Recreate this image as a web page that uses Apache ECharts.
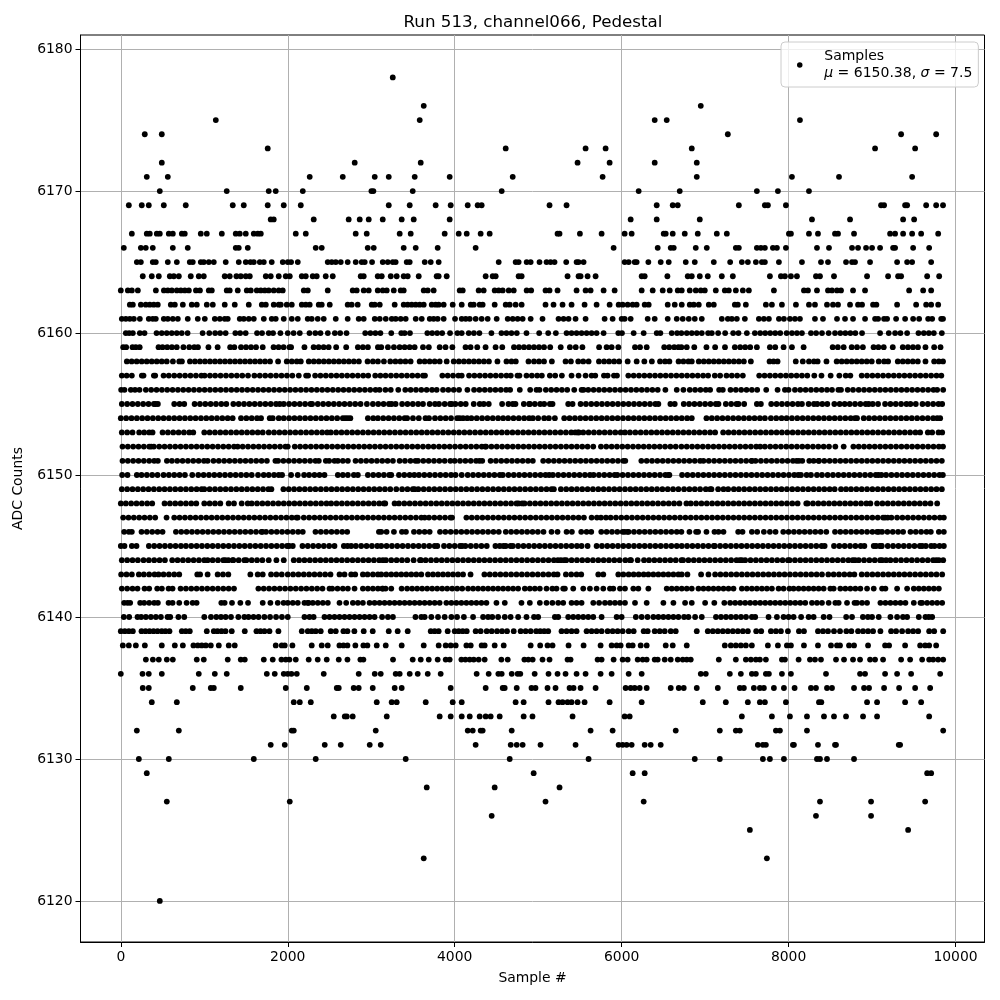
<!DOCTYPE html>
<html>
<head>
<meta charset="utf-8">
<title>Run 513, channel066, Pedestal</title>
<script src="https://cdn.jsdelivr.net/npm/echarts@6/dist/echarts.min.js"></script>
<style>
html,body{margin:0;padding:0;background:#fff}
#main{width:1000px;height:1000px}
</style>
</head>
<body>
<div id="main"></div>
<script>
// sample numbers, one list per ADC level
const adc6178=[3258]
const adc6176=[3629,6948]
const adc6175=[1138,3581,6396,6540,8136]
const adc6174=[287,491,7272,9348,9768]
const adc6173=[1760,4611,5568,5808,6840,9036,9516]
const adc6172=[491,2802,3593,5472,5856,6396,6900]
const adc6171=[311,563,2263,2659,3042,3210,3521,3940,4695,5772,6900,8040,8604,9480]
const adc6170=[467,1269,1772,1856,2180,3002,3026,3497,4563,6204,6696,7620,7872,8244]
const adc6169=[96,251,335,515,778,1341,1473,1760,1952,2156,3210,3461,3772,3952,4156,4275,4323,5136,5340,6420,6612,6672,7404,7716,7752,7968,9108,9144,9396,9420,9648,9768,9850]
const adc6168=[1796,1832,2311,2730,2862,2970,3138,3365,3509,3940,6108,6420,6936,8280,8736,9372,9504]
const adc6167=[132,311,347,431,467,575,623,731,766,958,1030,1210,1377,1425,1497,1593,1641,1677,2096,2216,2814,2946,3341,3473,3880,4048,4144,4311,4419,5232,5256,5500,5760,6036,6120,6504,6528,6612,6756,6912,7140,7260,8004,8028,8244,8352,8556,8592,8784,9216,9276,9372,9480,9588,9792]
const adc6166=[36,240,299,383,623,802,1377,1413,1521,2335,2407,2958,3030,3389,3533,3796,4251,5904,6432,6588,6624,6888,7020,7368,7404,7620,7668,7716,7812,7860,7968,8340,8484,8760,8832,8928,9000,9096,9252,9276,9492,9684]
const adc6165=[192,240,383,419,563,671,826,862,958,994,1054,1114,1257,1413,1497,1553,1593,1665,1713,1808,1940,2000,2040,2120,2479,2527,2575,2635,2718,2814,2886,2922,3010,3138,3198,3258,3293,3425,3461,3641,3713,3808,4527,4730,4766,4862,4910,5016,5100,5148,5196,5336,5460,5484,5544,6036,6084,6156,6180,6320,6468,6564,6768,6876,7104,7300,7440,7512,7608,7680,7716,7884,8160,8388,8472,8688,8760,8796,8976,9300,9420,9480,9708]
const adc6164=[263,371,455,587,635,695,838,934,994,1245,1305,1385,1437,1497,1545,1737,1796,1892,1976,2024,2168,2216,2299,2347,2455,2539,2874,2910,3078,3126,3234,3305,3389,3437,3569,3784,3808,3904,4371,4455,4491,4766,4802,5352,5484,5508,5592,5688,6240,6276,6548,6792,6840,6936,7032,7200,7332,7776,7908,7956,8028,8100,8328,8376,8544,8940,9192,9312,9348,9660,9804]
const adc6163=[0,84,132,204,420,516,563,611,671,719,767,815,900,948,1054,1090,1269,1305,1401,1509,1557,1629,1677,1725,1772,1832,1892,1940,2192,2240,2479,2778,2826,2910,2970,3078,3138,3186,3270,3353,3389,3629,3677,3748,4060,4096,4287,4347,4479,4527,4575,4647,4707,4862,4916,5088,5136,5232,5460,5568,5628,5784,5916,6240,6372,6492,6576,6672,6720,6816,6888,6948,6996,7128,7236,7284,7368,7452,7524,7824,8184,8232,8340,8472,8520,8580,8628,8772,8916,9444,9612,9708]
const adc6162=[108,144,240,299,347,395,443,599,647,743,850,910,1030,1102,1245,1365,1533,1689,1737,1832,1892,1916,1988,2048,2168,2216,2263,2371,2407,2503,2718,2766,2838,3006,3042,3102,3281,3389,3437,3485,3533,3581,3629,3725,3772,3808,3868,3976,4084,4192,4228,4299,4335,4479,4611,4659,4730,4802,5088,5184,5292,5400,5556,5700,5856,5964,6012,6072,6132,6180,6276,6324,6552,6636,6720,6816,6864,6924,7044,7104,7356,7392,7488,7728,7800,7920,8088,8244,8316,8460,8532,8592,8736,8832,8880,9012,9052,9300,9528,9648,9708,9792]
const adc6161=[12,60,108,156,228,335,383,419,515,563,623,683,802,922,1006,1126,1186,1245,1281,1425,1473,1533,1593,1713,1808,1856,1952,2048,2120,2239,2287,2359,2431,2575,2718,2850,2910,3042,3102,3174,3246,3293,3353,3413,3533,3605,3701,3748,3796,3868,4004,4084,4132,4180,4251,4323,4395,4503,4635,4695,4754,4814,4910,5052,5244,5304,5364,5448,5568,5796,5892,6000,6036,6108,6312,6396,6552,6660,6732,6804,6876,6960,7200,7272,7320,7380,7476,7644,7704,7764,7884,7944,8016,8076,8136,8316,8412,8580,8676,8772,8916,9036,9072,9144,9180,9288,9396,9492,9564,9672,9720,9828,9850]
const adc6160=[60,100,144,228,284,428,490,550,610,670,730,800,980,1060,1130,1190,1256,1372,1430,1496,1632,1692,1772,1824,1912,2000,2070,2144,2260,2330,2392,2480,2564,2628,2704,2928,2990,3050,3110,3240,3360,3400,3464,3672,3730,3790,3850,3944,4032,4084,4168,4230,4296,4440,4560,4620,4680,4744,4860,5012,5120,5212,5340,5400,5460,5520,5580,5640,5700,5784,5960,6004,6144,6264,6420,6464,6600,6664,6716,6780,6840,6900,6960,7036,7080,7156,7240,7336,7400,7500,7596,7660,7720,7780,7840,7900,7976,8040,8100,8160,8268,8330,8400,8480,8556,8620,8680,8740,8800,8880,9096,9200,9276,9340,9420,9556,9620,9680,9740,9836]
const adc6159=[28,64,140,180,226,452,500,556,612,670,750,820,880,924,1050,1160,1310,1360,1440,1500,1560,1620,1700,1830,1890,1950,2020,2040,2200,2310,2370,2430,2490,2580,2700,2840,2900,2960,3080,3120,3200,3272,3340,3400,3460,3520,3620,3690,3820,3890,3972,4130,4190,4270,4370,4490,4570,4710,4770,4830,4890,4950,5010,5070,5144,5270,5380,5450,5530,5730,5820,5880,5960,6160,6220,6300,6510,6570,6630,6680,6716,6780,6870,7016,7120,7238,7356,7420,7480,7540,7620,7776,7840,7940,8040,8180,8528,8590,8660,8756,8820,8890,9018,9076,9140,9248,9368,9430,9490,9550,9640,9744,9820]
const adc6158=[72,130,190,250,310,370,430,490,550,624,700,732,828,888,948,1008,1068,1128,1188,1248,1308,1368,1428,1488,1548,1608,1668,1728,1788,1884,1988,2048,2108,2156,2252,2312,2372,2432,2492,2552,2612,2672,2732,2792,2852,2956,3020,3080,3152,3228,3290,3350,3410,3472,3580,3640,3700,3760,3820,3904,3988,4050,4110,4170,4230,4290,4350,4410,4512,4620,4680,4732,4884,4950,5010,5070,5164,5328,5392,5480,5540,5604,5728,5790,5850,5910,5970,6072,6180,6272,6362,6460,6520,6572,6682,6740,6800,6840,6924,6984,7044,7104,7164,7224,7284,7344,7404,7464,7548,7772,7820,7868,8086,8170,8244,8304,8348,8454,8576,8636,8696,8756,8816,8876,8936,8996,9080,9144,9192,9308,9368,9428,9488,9548,9640,9744,9800,9850]
const adc6157=[12,70,132,252,272,396,412,512,575,640,705,770,835,900,965,1004,1068,1130,1195,1260,1325,1390,1455,1524,1600,1665,1730,1795,1860,1925,1990,2055,2132,2220,2244,2328,2392,2456,2520,2584,2648,2712,2776,2840,2904,2964,3048,3110,3172,3236,3300,3364,3428,3492,3556,3620,3644,3852,3916,3980,4044,4084,4172,4236,4300,4364,4428,4492,4556,4620,4672,4752,4776,4860,4924,4988,5044,5140,5204,5284,5400,5484,5568,5640,5684,5788,5832,5908,5944,6080,6144,6208,6272,6336,6400,6464,6528,6592,6656,6720,6784,6848,6912,6976,7036,7116,7180,7256,7320,7384,7452,7648,7712,7776,7840,7904,7968,8032,8096,8160,8224,8308,8394,8504,8608,8684,8740,8876,8940,9004,9068,9132,9196,9260,9324,9388,9452,9516,9580,9644,9708,9772,9830]
const adc6156=[4,44,120,170,224,300,364,428,492,556,620,684,748,812,876,940,1004,1068,1132,1196,1260,1324,1388,1452,1516,1580,1644,1708,1772,1836,1900,1964,2028,2092,2156,2220,2284,2348,2412,2476,2540,2604,2668,2732,2796,2860,2924,2988,3052,3100,3170,3234,3324,3408,3472,3536,3600,3664,3728,3784,3860,3924,3988,4052,4152,4232,4296,4360,4424,4488,4552,4616,4664,4780,4904,4980,5016,5092,5156,5220,5284,5348,5432,5520,5544,5600,5664,5728,5792,5856,5920,5984,6048,6112,6176,6240,6304,6368,6432,6524,6660,6740,6816,6880,6944,7008,7060,7168,7212,7304,7368,7432,7496,7560,7624,7732,7868,7956,8000,8076,8140,8204,8268,8332,8396,8460,8520,8596,8628,8708,8772,8840,8904,8968,9032,9096,9160,9224,9288,9352,9416,9480,9544,9608,9672,9736,9780,9852]
const adc6155=[12,76,140,204,268,332,396,416,444,640,704,760,884,948,1012,1076,1140,1204,1264,1348,1412,1476,1540,1604,1668,1732,1796,1860,1904,1952,2016,2080,2144,2208,2272,2292,2360,2424,2488,2552,2616,2680,2744,2808,2872,2948,3020,3084,3148,3212,3244,3292,3370,3434,3498,3562,3620,3700,3764,3812,3880,3944,3964,4008,4072,4132,4228,4300,4348,4408,4568,4644,4696,4728,4828,4892,4900,4960,5024,5072,5140,5172,5360,5412,5508,5572,5636,5700,5764,5828,5892,5956,6020,6084,6148,6212,6276,6340,6404,6440,6584,6636,6744,6808,6872,6936,7000,7064,7128,7160,7248,7312,7376,7400,7468,7620,7668,7792,7856,7920,7984,8048,8112,8160,8240,8304,8344,8404,8464,8548,8612,8672,8732,8796,8860,8924,8960,9008,9072,9156,9220,9284,9348,9412,9460,9524,9604,9668,9732,9796,9840]
const adc6154=[0,64,128,192,256,320,384,448,512,576,640,704,768,832,896,960,1024,1088,1152,1216,1280,1340,1440,1504,1568,1632,1680,1784,1820,1892,1952,2016,2080,2144,2208,2272,2336,2400,2464,2528,2592,2660,2690,2720,2750,2960,3024,3080,3144,3208,3272,3336,3400,3430,3500,3570,3650,3692,3764,3828,3892,3956,4030,4060,4100,4150,4200,4264,4328,4392,4456,4520,4580,4640,4704,4768,4832,4892,4936,5000,5072,5128,5200,5312,5376,5440,5504,5568,5632,5696,5760,5824,5888,5952,6016,6080,6144,6208,6272,6336,6400,6464,6528,6592,6656,6720,6784,6840,7016,7080,7144,7208,7272,7336,7400,7464,7528,7592,7656,7716,7788,7852,7916,7976,8040,8104,8168,8232,8296,8360,8424,8488,8552,8616,8680,8744,8796,8820,8900,8964,9028,9092,9156,9220,9284,9348,9412,9476,9540,9604,9668,9732,9780,9816]
const adc6153=[12,76,140,220,280,340,380,500,564,628,692,756,820,868,1000,1064,1128,1192,1256,1320,1384,1448,1512,1576,1640,1700,1772,1836,1900,1964,2028,2092,2156,2220,2284,2348,2412,2472,2516,2580,2644,2708,2772,2836,2900,2964,3028,3092,3156,3220,3284,3348,3412,3476,3540,3604,3668,3732,3796,3860,3924,3988,4052,4116,4180,4244,4308,4372,4436,4500,4564,4628,4692,4756,4820,4884,4948,5012,5076,5140,5204,5268,5332,5396,5444,5476,5488,5540,5604,5668,5732,5796,5860,5924,5988,6040,6100,6164,6228,6292,6356,6420,6484,6548,6612,6676,6740,6804,6868,6932,6996,7060,7120,7216,7280,7344,7408,7472,7536,7600,7664,7728,7792,7856,7920,7984,8048,8112,8176,8240,8304,8368,8432,8496,8560,8624,8688,8752,8816,8880,8944,9008,9072,9136,9200,9264,9328,9392,9456,9520,9576,9668,9720,9796,9840]
const adc6152=[20,84,148,212,276,340,364,396,460,524,588,652,716,780,844,908,972,1036,1100,1164,1228,1292,1356,1400,1460,1524,1588,1652,1716,1780,1844,1908,1972,2000,2084,2148,2212,2276,2340,2404,2468,2532,2596,2660,2724,2788,2852,2916,2980,3044,3108,3172,3236,3300,3364,3428,3492,3556,3620,3684,3748,3812,3876,3940,4004,4068,4132,4196,4260,4324,4364,4376,4440,4504,4568,4632,4696,4760,4824,4888,4952,5016,5080,5144,5208,5272,5336,5400,5464,5528,5592,5660,5752,5816,5880,5944,6008,6072,6136,6200,6264,6328,6392,6456,6520,6584,6648,6716,6780,6844,6908,6972,7036,7100,7164,7228,7292,7356,7420,7484,7548,7612,7660,7716,7780,7844,7908,7972,8036,8100,8164,8228,8292,8356,8420,8484,8560,8660,8776,8840,8904,8968,9032,9096,9160,9224,9288,9352,9416,9480,9544,9608,9672,9736,9800,9850]
const adc6151=[20,84,148,212,276,340,400,444,552,612,676,740,804,868,932,996,1040,1110,1174,1238,1302,1366,1430,1494,1558,1622,1686,1750,1852,1884,1948,2012,2076,2140,2204,2268,2332,2372,2456,2496,2560,2600,2660,2720,2812,2876,2940,3004,3068,3132,3196,3260,3340,3404,3470,3530,3560,3624,3688,3752,3816,3880,3948,4000,4064,4128,4192,4256,4296,4330,4430,4494,4558,4622,4686,4750,4814,4878,4936,5060,5124,5188,5252,5316,5380,5444,5508,5572,5636,5700,5764,5828,5892,5956,6020,6044,6236,6300,6364,6428,6492,6556,6620,6684,6748,6812,6876,6940,6980,7044,7108,7172,7236,7300,7364,7428,7492,7556,7560,7604,7668,7732,7796,7860,7924,7988,8052,8096,8124,8164,8248,8300,8360,8364,8428,8492,8556,8620,8684,8748,8812,8876,8940,9004,9068,9132,9196,9260,9324,9388,9452,9516,9580,9644,9708,9772,9836]
const adc6150=[16,80,192,248,312,376,440,512,576,640,704,768,856,928,992,1056,1120,1184,1248,1312,1376,1440,1504,1568,1644,1712,1772,1836,1892,1932,2040,2120,2196,2256,2320,2380,2440,2600,2660,2720,2792,2840,2960,3024,3088,3152,3216,3240,3332,3396,3460,3516,3572,3636,3700,3764,3828,3892,3956,4010,4084,4156,4220,4284,4348,4412,4476,4540,4576,4644,4708,4772,4836,4900,4964,5028,5088,5132,5176,5240,5304,5368,5432,5496,5560,5620,5664,5728,5792,5856,5916,5948,6012,6076,6140,6204,6268,6332,6396,6460,6524,6560,6572,6724,6788,6852,6916,6980,7044,7108,7172,7236,7300,7364,7428,7492,7556,7620,7684,7748,7812,7876,7940,8004,8068,8116,8148,8216,8268,8340,8400,8468,8532,8596,8660,8724,8788,8852,8916,8980,9044,9076,9112,9168,9232,9296,9360,9424,9488,9552,9616,9680,9744,9808,9848]
const adc6149=[12,76,140,204,268,332,396,460,524,588,652,716,780,844,908,968,1000,1064,1128,1192,1256,1320,1384,1448,1512,1576,1640,1704,1768,1804,1948,2012,2076,2140,2204,2268,2332,2396,2460,2524,2588,2652,2716,2780,2844,2908,2972,3036,3100,3164,3228,3300,3370,3434,3498,3520,3564,3628,3692,3756,3820,3884,3948,4012,4076,4140,4204,4268,4332,4396,4460,4524,4588,4652,4716,4780,4844,4908,4972,5036,5100,5160,5188,5272,5336,5400,5464,5528,5592,5656,5720,5784,5848,5912,5976,6040,6104,6168,6232,6296,6360,6424,6488,6552,6616,6680,6748,6812,6876,6940,7008,7060,7076,7156,7220,7276,7344,7404,7468,7532,7596,7660,7724,7788,7852,7916,7980,8044,8108,8172,8236,8300,8364,8428,8492,8552,8628,8688,8748,8812,8876,8940,9004,9068,9132,9196,9260,9324,9388,9452,9516,9580,9644,9708,9772,9836]
const adc6148=[0,60,124,188,252,316,376,524,588,652,716,780,844,904,1000,1064,1128,1192,1292,1356,1448,1520,1568,1632,1696,1760,1824,1888,1952,2016,2080,2144,2208,2272,2336,2400,2464,2520,2584,2648,2712,2776,2840,2904,2968,3032,3096,3152,3168,3280,3332,3396,3460,3524,3588,3652,3716,3780,3844,3908,3972,4036,4100,4164,4228,4292,4356,4420,4484,4548,4612,4676,4740,4764,4808,4836,4900,4964,5028,5092,5156,5220,5284,5348,5412,5476,5540,5604,5668,5732,5796,5860,5924,5988,6052,6116,6180,6244,6308,6372,6436,6500,6564,6628,6692,6776,6828,6892,6956,7020,7084,7148,7212,7276,7340,7404,7468,7532,7596,7660,7724,7788,7852,7916,7980,8044,8108,8212,8228,8292,8356,8420,8484,8548,8612,8676,8740,8804,8868,8932,8980,9060,9124,9188,9252,9316,9380,9444,9508,9572,9636,9700,9780]
const adc6147=[28,92,156,220,284,348,412,548,640,704,768,832,896,960,1024,1088,1152,1216,1280,1344,1408,1472,1536,1600,1664,1728,1792,1856,1920,1984,2048,2104,2120,2192,2256,2320,2384,2448,2512,2576,2640,2704,2768,2832,2896,2960,3024,3088,3152,3216,3280,3344,3408,3472,3536,3600,3640,3692,3756,3820,3884,3948,3968,4140,4204,4268,4332,4396,4460,4524,4588,4652,4716,4780,4844,4908,4972,5036,5100,5164,5228,5292,5356,5420,5484,5548,5640,5704,5752,5812,5868,5932,5996,6060,6124,6188,6252,6316,6380,6444,6508,6572,6636,6700,6764,6828,6892,6956,7020,7084,7148,7212,7276,7340,7404,7468,7532,7596,7660,7724,7788,7852,7916,7980,8044,8108,8172,8236,8300,8364,8428,8492,8556,8620,8684,8748,8812,8876,8940,9004,9068,9132,9156,9188,9232,9300,9364,9428,9492,9556,9620,9684,9748,9812,9860]
const adc6146=[40,96,132,248,312,376,440,500,660,724,788,852,916,980,1044,1108,1172,1236,1300,1364,1428,1492,1556,1620,1684,1696,1740,1804,1868,1932,1996,2060,2124,2180,2332,2396,2460,2524,2588,2652,2712,3092,3120,3184,3272,3368,3416,3512,3576,3640,3700,3824,3888,3952,4016,4080,4144,4208,4272,4336,4400,4464,4528,4612,4676,4740,4804,4868,4932,4996,5064,5160,5232,5340,5404,5516,5580,5636,5756,5820,5884,5948,6012,6036,6068,6084,6148,6212,6276,6340,6404,6468,6532,6596,6660,6716,6812,6892,6916,7016,7112,7160,7220,7396,7448,7560,7624,7704,7776,7844,7936,8000,8064,8128,8192,8256,8320,8384,8452,8556,8620,8684,8748,8812,8876,8940,9004,9060,9080,9120,9184,9248,9312,9372,9460,9524,9588,9652,9704,9800,9860]
const adc6145=[0,44,132,188,336,400,464,528,592,656,720,780,844,908,972,1036,1100,1164,1228,1292,1356,1420,1484,1548,1612,1676,1740,1804,1868,1932,1992,2016,2060,2176,2240,2304,2368,2432,2496,2560,2672,2716,2760,2816,2880,2944,3008,3072,3120,3184,3248,3312,3376,3440,3504,3568,3632,3696,3760,3792,3872,3936,4000,4064,4088,4128,4192,4256,4320,4384,4488,4540,4584,4612,4668,4696,4760,4824,4888,4952,5016,5080,5144,5208,5272,5336,5400,5464,5520,5592,5700,5764,5828,5892,5956,6020,6084,6148,6212,6276,6340,6404,6468,6532,6596,6660,6720,6784,6848,6912,6976,7040,7104,7116,7180,7244,7308,7372,7436,7500,7564,7628,7692,7756,7820,7884,7948,8012,8076,8140,8204,8268,8332,8396,8432,8544,8608,8672,8736,8800,8864,8908,9020,9048,9092,9112,9116,9188,9252,9316,9380,9444,9508,9572,9600,9644,9708,9748,9808,9860]
const adc6144=[12,76,140,204,272,336,400,464,528,616,680,744,808,872,936,1000,1040,1100,1164,1228,1252,1288,1340,1348,1412,1480,1504,1568,1632,1696,1772,1864,1952,2072,2136,2200,2264,2328,2392,2456,2520,2584,2648,2712,2776,2840,2904,2968,3032,3096,3140,3176,3240,3304,3368,3432,3508,3584,3596,3652,3716,3780,3844,3908,3972,4036,4100,4164,4228,4292,4356,4420,4484,4548,4612,4676,4740,4804,4868,4932,4996,5060,5124,5188,5236,5272,5312,5336,5400,5464,5528,5592,5656,5720,5784,5848,5912,5976,6044,6100,6112,6192,6268,6328,6392,6456,6520,6584,6648,6716,6736,6800,6864,6928,6992,7056,7120,7184,7248,7312,7376,7416,7440,7480,7544,7608,7672,7736,7800,7864,7928,7992,8012,8076,8140,8204,8268,8332,8396,8460,8524,8588,8652,8716,8768,8796,8840,8904,8968,9032,9096,9120,9168,9220,9284,9348,9412,9476,9540,9604,9668,9732,9768,9800,9852]
const adc6143=[4,68,132,216,276,340,404,452,512,576,640,700,916,950,1040,1160,1224,1288,1552,1640,1700,1800,1864,1928,2000,2064,2128,2192,2256,2320,2384,2448,2512,2620,2680,2760,2808,2900,2956,3020,3080,3120,3180,3240,3300,3360,3420,3480,3540,3600,3680,3740,3800,3860,3920,3980,4040,4100,4190,4356,4420,4484,4548,4612,4676,4740,4804,4868,4932,4996,5060,5124,5188,5232,5332,5396,5460,5516,5720,5780,5960,6020,6084,6144,6204,6264,6320,6380,6440,6500,6560,6620,6680,6720,6788,6952,7040,7120,7184,7248,7312,7376,7440,7504,7568,7632,7696,7760,7824,7888,7952,8016,8080,8144,8208,8272,8336,8400,8476,8540,8604,8668,8732,8788,8876,8940,9004,9068,9132,9196,9260,9324,9388,9452,9516,9580,9644,9708,9772,9840]
const adc6142=[12,76,140,200,284,340,436,492,572,620,716,780,844,908,972,1036,1100,1164,1228,1292,1356,1648,1712,1776,1840,1904,1968,2032,2096,2160,2224,2288,2352,2416,2500,2532,2596,2660,2720,2800,2900,2960,3020,3080,3132,3140,3172,3240,3364,3430,3490,3550,3610,3670,3730,3790,3850,3910,3970,4030,4090,4160,4220,4280,4340,4400,4460,4520,4580,4640,4700,4760,4840,4900,4960,5020,5100,5170,5220,5300,5320,5420,5540,5620,5700,5780,5860,5900,5980,6040,6140,6200,6320,6540,6600,6660,6720,6780,6840,6920,6980,7040,7100,7160,7220,7280,7340,7440,7500,7560,7620,7680,7740,7800,7880,7940,8010,8060,8120,8180,8240,8300,8360,8420,8500,8540,8620,8680,8740,8800,8860,8940,9020,9120,9160,9300,9420,9500,9560,9620,9680,9740,9800]
const adc6141=[40,80,112,232,280,340,400,444,572,620,700,788,860,908,1204,1244,1332,1432,1524,1700,1792,1880,1950,2000,2060,2120,2200,2240,2250,2300,2360,2420,2480,2620,2700,2780,2840,2900,2980,3040,3100,3160,3220,3280,3340,3400,3460,3520,3580,3640,3700,3760,3820,3900,3960,4020,4080,4140,4200,4260,4320,4380,4500,4600,4800,4900,5020,5100,5170,5240,5300,5400,5460,5520,5660,5730,5800,5860,5920,5980,6040,6160,6300,6500,6620,6760,6840,7000,7110,7230,7300,7360,7420,7480,7540,7600,7660,7720,7780,7840,7900,7960,8020,8080,8140,8200,8280,8340,8400,8480,8560,8600,8700,8790,8820,8880,8940,9100,9160,9220,9280,9340,9400,9500,9580,9600,9660,9720,9780,9840]
const adc6140=[36,100,200,244,300,360,420,480,560,592,690,760,1000,1080,1144,1200,1256,1320,1408,1480,1530,1590,1650,1720,1788,1860,1930,2000,2200,2260,2310,2440,2500,2560,2620,2680,2740,2800,2860,2920,2980,3040,3130,3200,3260,3530,3600,3640,3720,3800,3880,3960,4028,4110,4220,4340,4400,4450,4520,4600,4670,4760,4860,4950,5000,5200,5240,5360,5420,5480,5540,5600,5660,5760,5940,6000,6170,6240,6310,6380,6440,6500,6560,6620,6680,6748,6800,6880,6960,7130,7190,7250,7310,7370,7430,7490,7560,7600,7760,7860,7940,8000,8060,8150,8240,8300,8420,8490,8690,8760,8890,8950,9000,9080,9220,9300,9370,9420,9560,9640,9680,9720]
const adc6139=[0,48,96,144,248,296,344,392,440,491,535,583,731,778,826,1030,1114,1158,1206,1254,1329,1485,1625,1673,1721,1781,1888,2168,2240,2288,2335,2395,2515,2575,2667,2715,2798,2910,3018,3210,3317,3437,3713,3760,3808,3916,4000,4048,4096,4144,4251,4311,4383,4443,4507,4567,4627,4707,4790,4850,4910,4976,5024,5072,5120,5280,5340,5400,5460,5580,5640,5700,5760,5832,5892,5952,6012,6084,6144,6264,6312,6396,6456,6516,6588,6648,6900,7032,7092,7152,7212,7272,7332,7392,7452,7512,7612,7672,7788,7848,7908,7992,8124,8184,8352,8412,8472,8544,8616,8692,8752,8832,8892,8952,9012,9100,9228,9288,9360,9432,9492,9552,9684,9744,9852]
const adc6138=[24,96,180,288,491,647,743,870,922,970,1018,1078,1174,1293,1365,1856,1928,1964,2056,2287,2407,2479,2619,2667,2715,2810,2906,2954,3066,3174,3365,3629,3808,3892,3952,4012,4140,4192,4323,4359,4479,4587,4910,5024,5112,5172,5364,5544,5748,5880,5940,5988,6084,6132,6228,6300,6528,6612,6780,7236,7308,7368,7428,7488,7560,7752,7872,7980,8028,8184,8352,8508,8580,8616,8724,8784,8952,9156,9204,9396,9576,9636,9684,9768]
const adc6137=[300,384,455,551,623,910,994,1281,1437,1485,1713,1820,1924,1976,2020,2096,2251,2359,2467,2611,2715,2870,2906,3261,3497,3593,3689,3796,3892,3940,4080,4128,4180,4228,4287,4359,4559,4635,4835,4882,4934,5052,5136,5352,5388,5712,5760,5904,6012,6072,6192,6252,6300,6396,6432,6516,6588,6672,6732,6780,6828,7164,7368,7488,7548,7608,7656,7728,7920,7956,8120,8256,8316,8388,8568,8664,8772,8856,8976,9036,9132,9348,9456,9600,9684,9732,9792,9852]
const adc6136=[0,260,335,491,934,1126,1269,1749,1844,1952,2000,2044,2108,2431,2850,3042,3114,3293,3341,3461,3557,3677,3832,4263,4407,4523,4563,4683,4754,4786,4958,5124,5232,5328,5460,5568,5748,5880,6084,6240,6948,7008,7296,7428,7560,7608,7728,7764,7920,8028,8448,8856,8916,9156,9300,9468,9816]
const adc6135=[263,335,862,1078,1114,1437,1976,2228,2587,2611,2790,2850,3018,3281,3365,3952,4371,4575,4599,4743,4920,4968,5112,5208,5376,5424,5508,5688,6048,6108,6156,6216,6300,6588,6684,6744,6900,7152,7416,7464,7584,7656,7704,7824,7944,8072,8268,8328,8460,8520,8784,8904,8964,9144,9324,9516,9696]
const adc6134=[371,671,2072,2144,2276,3066,3245,3305,3653,3976,4084,4730,4826,5124,5244,5292,5352,5400,5472,5556,5856,6240,6972,7248,7512,7656,7716,7968,8364,8392,8940,9060,9396,9588]
const adc6133=[2551,2683,2707,2778,3186,3820,3952,4084,4180,4299,4371,4431,4539,4826,4932,5412,6036,6096,7440,7800,8016,8220,8424,8544,8688,8892,9060,9684]
const adc6132=[192,695,2048,2072,3054,4156,4216,4311,4335,4683,5628,5892,6648,7176,7368,7416,7848,7896,8220,9852]
const adc6131=[1796,1964,2443,2635,2982,3114,4251,4671,4743,4814,5028,5448,5964,6012,6060,6120,6276,6348,6468,7632,7692,7728,8052,8064,8352,8556,8568,9320,9336]
const adc6130=[216,575,1593,2335,3413,4659,5604,6876,7176,7692,7776,7944,8340,8376,8460,8784]
const adc6129=[311,4946,6132,6276,9660,9708]
const adc6128=[3665,4479,5256]
const adc6127=[551,2024,5088,6264,8376,8988,9636]
const adc6126=[4443,8328,8988]
const adc6125=[7536,9432]
const adc6123=[3629,7740]
const adc6120=[467]

const adcLevels=[6178,6176,6175,6174,6173,6172,6171,6170,6169,6168,6167,6166,6165,6164,6163,6162,6161,6160,6159,6158,6157,6156,6155,6154,6153,6152,6151,6150,6149,6148,6147,6146,6145,6144,6143,6142,6141,6140,6139,6138,6137,6136,6135,6134,6133,6132,6131,6130,6129,6128,6127,6126,6125,6123,6120]
const adcSamples=[adc6178,adc6176,adc6175,adc6174,adc6173,adc6172,adc6171,adc6170,adc6169,adc6168,adc6167,adc6166,adc6165,adc6164,adc6163,adc6162,adc6161,adc6160,adc6159,adc6158,adc6157,adc6156,adc6155,adc6154,adc6153,adc6152,adc6151,adc6150,adc6149,adc6148,adc6147,adc6146,adc6145,adc6144,adc6143,adc6142,adc6141,adc6140,adc6139,adc6138,adc6137,adc6136,adc6135,adc6134,adc6133,adc6132,adc6131,adc6130,adc6129,adc6128,adc6127,adc6126,adc6125,adc6123,adc6120]
const xTicks=[0,2000,4000,6000,8000,10000]
const yTicks=[6120,6130,6140,6150,6160,6170,6180]

const points=[]
adcLevels.forEach((lvl,i)=>{
    adcSamples[i].forEach(s=>{ points.push([s,lvl]) })
})

const font='"DejaVu Sans"'
const myEcharts=echarts.init(document.getElementById('main'),null,{renderer:'canvas'})
myEcharts.setOption({
    animation:false,
    backgroundColor:'#fff',
    title:{
        text:'Run 513, channel066, Pedestal',
        left:528,top:9,textAlign:'center',
        textStyle:{fontFamily:font,fontSize:16.7,fontWeight:'normal',color:'#000'}
    },
    legend:{
        data:['Samples'],
        left:781,top:42,
        padding:[6,6,5,16],
        icon:'circle',
        itemWidth:39,itemHeight:5.5,
        backgroundColor:'rgba(255,255,255,0.8)',
        borderColor:'#ccc',borderWidth:1,borderRadius:4,
        formatter:()=>'Samples\n{i|μ} = 6150.38, {i|σ} = 7.5',
        textStyle:{
            fontFamily:font,fontSize:14,color:'#000',lineHeight:17,
            rich:{i:{fontFamily:font,fontStyle:'italic',fontSize:14,color:'#000',lineHeight:17}}
        }
    },
    grid:{left:80.5,right:15.5,top:35,bottom:58,containLabel:false,show:true,borderColor:'#000',borderWidth:1,backgroundColor:'transparent'},
    xAxis:{
        type:'value',min:-483,max:10347,
        name:'Sample #',nameLocation:'middle',nameGap:29,
        nameTextStyle:{fontFamily:font,fontSize:13.9,color:'#000'},
        axisLine:{show:true,onZero:false,lineStyle:{color:'#000',width:1}},
        axisTick:{show:true,length:5,customValues:xTicks,lineStyle:{color:'#000',width:1}},
        axisLabel:{customValues:xTicks,formatter:v=>String(v),margin:8,fontFamily:font,fontSize:13.9,color:'#000'},
        splitLine:{show:true,lineStyle:{color:'#b0b0b0',width:1}}
    },
    yAxis:{
        type:'value',min:6117.11,max:6180.99,
        name:'ADC Counts',nameLocation:'middle',nameGap:55,
        nameTextStyle:{fontFamily:font,fontSize:13.9,color:'#000'},
        axisLine:{show:true,onZero:false,lineStyle:{color:'#000',width:1}},
        axisTick:{show:true,length:5,customValues:yTicks,lineStyle:{color:'#000',width:1}},
        axisLabel:{customValues:yTicks,formatter:v=>String(v),margin:8,fontFamily:font,fontSize:13.9,color:'#000'},
        splitLine:{show:true,lineStyle:{color:'#b0b0b0',width:1}}
    },
    series:[{
        name:'Samples',
        type:'scatter',
        symbol:'circle',
        symbolSize:5.8,
        progressive:0,
        large:false,
        itemStyle:{color:'#000',opacity:1},
        data:points
    }]
})
</script>
</body>
</html>
